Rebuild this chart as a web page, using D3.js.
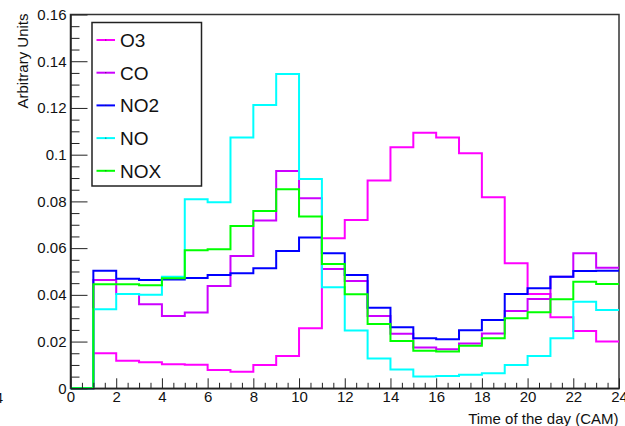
<!DOCTYPE html>
<html>
<head>
<meta charset="utf-8">
<script src="https://cdn.jsdelivr.net/npm/d3@7"></script>
<style>
  html, body { margin: 0; padding: 0; background: #fff; }
  svg { display: block; }
  text { font-family: "Liberation Sans", Arial, Helvetica, sans-serif; fill: #111; }
</style>
</head>
<body>
<svg id="chart" width="625" height="426"></svg>
<script>
// Hourly profiles (bin i covers hour i..i+1), arbitrary units
const hourBins = d3.range(0, 24);
const o3  = [0, 0.0150, 0.0118, 0.0111, 0.0103, 0.0101, 0.0078, 0.0071, 0.0100, 0.0138, 0.0257, 0.0642, 0.0720, 0.0889, 0.1032, 0.1094, 0.1074, 0.1006, 0.0818, 0.0535, 0.0404, 0.0304, 0.0245, 0.0200];
const co  = [0, 0.0464, 0.0404, 0.0360, 0.0310, 0.0324, 0.0438, 0.0566, 0.0718, 0.0930, 0.0813, 0.0511, 0.0459, 0.0310, 0.0234, 0.0175, 0.0167, 0.0192, 0.0235, 0.0331, 0.0382, 0.0478, 0.0578, 0.0516];
const no2 = [0, 0.0503, 0.0469, 0.0464, 0.0466, 0.0472, 0.0485, 0.0492, 0.0514, 0.0588, 0.0646, 0.0578, 0.0485, 0.0345, 0.0261, 0.0214, 0.0210, 0.0248, 0.0292, 0.0404, 0.0428, 0.0478, 0.0502, 0.0503];
const no  = [0, 0.0338, 0.0404, 0.0400, 0.0478, 0.0809, 0.0796, 0.1074, 0.1213, 0.1345, 0.0896, 0.0432, 0.0247, 0.0128, 0.0081, 0.0050, 0.0053, 0.0058, 0.0064, 0.0100, 0.0138, 0.0214, 0.0371, 0.0335];
const nox = [0, 0.0445, 0.0445, 0.0441, 0.0471, 0.0591, 0.0595, 0.0695, 0.0759, 0.0852, 0.0735, 0.0532, 0.0403, 0.0275, 0.0202, 0.0161, 0.0157, 0.0182, 0.0214, 0.0300, 0.0325, 0.0381, 0.0456, 0.0446];

const seriesNames  = ["O3", "CO", "NO2", "NO", "NOX"];
const seriesValues = [o3, co, no2, no, nox];
const seriesColors = ["#ff00ff", "#cc00ff", "#0000ff", "#00ffff", "#00ff00"];

const xTickValues = d3.range(0, 25, 2);
const xTickLabels = ["0","2","4","6","8","10","12","14","16","18","20","22","24"];
const yTickValues = d3.range(0, 0.1601, 0.02);
const yTickLabels = ["0","0.02","0.04","0.06","0.08","0.1","0.12","0.14","0.16"];

const svg = d3.select("#chart");
const x = d3.scaleLinear().domain([0, 24]).range([70.5, 619]);
const y = d3.scaleLinear().domain([0, 0.16]).range([388.3, 14.5]);

// frame
svg.append("rect")
  .attr("x", x(0)).attr("y", y(0.16))
  .attr("width", x(24) - x(0)).attr("height", y(0) - y(0.16))
  .attr("fill", "none").attr("stroke", "#333").attr("stroke-width", 1.5);

// histograms as step outlines
const line = d3.line()
  .x(d => x(d[0]))
  .y(d => y(d[1]))
  .curve(d3.curveStepAfter);

seriesValues.forEach((vals, k) => {
  const pts = hourBins.map(i => [i, vals[i]]);
  pts.push([24, vals[vals.length - 1]]);
  svg.append("path")
    .datum(pts)
    .attr("d", line)
    .attr("fill", "none")
    .attr("stroke", seriesColors[k])
    .attr("stroke-width", 2)
    .attr("stroke-linejoin", "miter");
});

// y axis: ticks pointing into the frame
const yMinor = d3.range(0, 0.1601, 0.005).filter(v => Math.abs(v / 0.02 - Math.round(v / 0.02)) > 1e-6);
svg.append("g")
  .attr("transform", `translate(${x(0)},0)`)
  .call(d3.axisLeft(y).tickValues(yMinor).tickFormat("").tickSize(-9).tickSizeOuter(0))
  .call(g => g.select(".domain").remove())
  .call(g => g.selectAll("line").attr("stroke", "#222"));
const yAxis = svg.append("g")
  .attr("transform", `translate(${x(0)},0)`)
  .call(d3.axisLeft(y).tickValues(yTickValues)
    .tickFormat((d, i) => yTickLabels[i]).tickSize(-17).tickSizeOuter(0).tickPadding(4));
yAxis.select(".domain").attr("stroke", "#222").attr("stroke-width", 1.5);
yAxis.selectAll("line").attr("stroke", "#222");
yAxis.selectAll("text").attr("font-size", 15).attr("fill", "#111")
  .style("font-family", "Liberation Sans, Arial, sans-serif");

// x axis: ticks pointing up
const xMinor = d3.range(0, 24.01, 0.5).filter(v => v % 2 !== 0);
svg.append("g")
  .attr("transform", `translate(0,${y(0)})`)
  .call(d3.axisBottom(x).tickValues(xMinor).tickFormat("").tickSize(-5.5).tickSizeOuter(0))
  .call(g => g.select(".domain").remove())
  .call(g => g.selectAll("line").attr("stroke", "#222"));
const xAxis = svg.append("g")
  .attr("transform", `translate(0,${y(0)})`)
  .call(d3.axisBottom(x).tickValues(xTickValues)
    .tickFormat((d, i) => xTickLabels[i]).tickSize(-10).tickSizeOuter(0).tickPadding(3));
xAxis.select(".domain").attr("stroke", "#222").attr("stroke-width", 1.5);
xAxis.selectAll("line").attr("stroke", "#222");
xAxis.selectAll("text").attr("font-size", 15).attr("fill", "#111")
  .style("font-family", "Liberation Sans, Arial, sans-serif");

// stray label at the left margin
svg.append("text").attr("x", 3).attr("y", 403).attr("text-anchor", "end")
  .attr("font-size", 15).text("4");

// axis titles
svg.append("text")
  .attr("x", 618.5).attr("y", 424).attr("text-anchor", "end")
  .attr("font-size", 15).text("Time of the day (CAM)");
svg.append("text")
  .attr("transform", "translate(28.3,13.5) rotate(-90)")
  .attr("text-anchor", "end")
  .attr("font-size", 15).text("Arbitrary Units");

// legend
const leg = svg.append("g");
leg.append("rect")
  .attr("x", 92).attr("y", 22.5).attr("width", 109.5).attr("height", 163.5)
  .attr("fill", "#fff").attr("stroke", "#222").attr("stroke-width", 1.5);
seriesNames.forEach((name, k) => {
  const cy = 40 + k * 32.7;
  leg.append("line")
    .attr("x1", 96.5).attr("x2", 115).attr("y1", cy).attr("y2", cy)
    .attr("stroke", seriesColors[k]).attr("stroke-width", 2);
  leg.append("rect")
    .attr("x", 105.3).attr("y", cy - 0.5).attr("width", 1).attr("height", 1)
    .attr("fill", "#333");
  leg.append("text")
    .attr("x", 120).attr("y", cy + 6.8)
    .attr("font-size", 19).text(name);
});
</script>
</body>
</html>
